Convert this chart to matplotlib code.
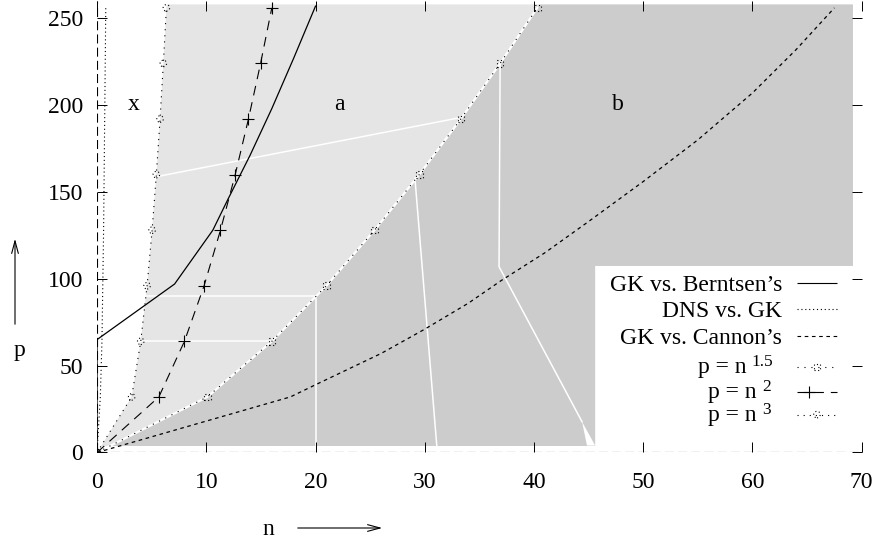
import matplotlib
matplotlib.use('Agg')
import matplotlib.pyplot as plt
from matplotlib.patches import FancyArrowPatch

plt.rcParams['font.family'] = ['Liberation Serif', 'DejaVu Serif']
plt.rcParams['font.size'] = 17
plt.rcParams['lines.scale_dashes'] = False

# p values where the power curves carry a marker
p_grid = [0, 32, 64, 96, 128, 160, 192, 224, 256]
n_p15 = [0, 10.1, 16.0, 21.0, 25.4, 29.5, 33.3, 36.9, 40.3]
n_p2 = [0, 5.66, 8.0, 9.8, 11.3, 12.65, 13.86, 14.97, 16.0]
n_p3 = [0, 3.17, 4.0, 4.58, 5.04, 5.43, 5.77, 6.07, 6.35]

# GK vs. Berntsen's
n_gb = [0, 0, 7.1, 10.6, 12, 14, 16, 18, 20]
p_gb = [0, 65, 97, 128, 146, 171, 198, 227, 257]
# DNS vs. GK
n_dns = [0, 0.3, 0.45, 0.6, 0.7, 0.8]
p_dns = [0, 32, 64, 128, 192, 256]
# GK vs. Cannon's
n_gc = [0, 17.7, 20, 23, 26, 30, 34, 37, 41, 45, 50, 55, 60, 64, 67.5]
p_gc = [0, 32, 39, 48, 57, 71, 86, 99, 115, 133, 156, 180, 207, 232, 256]

# shaded regions
p_top = 258
p_bottom = 4
n_right = 69.2
key_n, key_p = 45.6, 107.4
n_p15_top = 40.5
n_p3_top = 6.4

# white seams between the shaded cells
seams = [
    ([4.0, 16.0], [64, 64]),
    ([4.45, 20.0, 20.0], [90, 90, p_bottom]),
    ([5.6, 33.0], [159, 192.5]),
    ([29.1, 31.1], [158, p_bottom]),
    ([36.9, 36.8, 44.4], [224, 107, 17.7]),
]
wedge_n = [44.4, 44.85, 45.6]
wedge_p = [17.7, p_bottom, p_bottom]

region_labels = ['x', 'a', 'b']
region_n = [3.4, 22.2, 47.7]
region_p = [197, 197, 197]

light = '#e5e5e5'
dark = '#cccccc'

dotted_mark = dict(s=22, facecolors='none', edgecolors='k', linewidths=0.8,
                   linestyles=(0, (0.8, 1.8)))

fig = plt.figure(figsize=(8.75, 5.39), dpi=100)
ax = fig.add_axes([0.1109, 0.1605, 0.8739, 0.8378])
ax.set_xlim(0, 70)
ax.set_ylim(0, 260)
for s in ax.spines.values():
    s.set_visible(False)

# fills
ax.fill(n_p3 + [n_p3_top, n_p15_top] + n_p15[::-1],
        p_grid + [p_top, p_top] + p_grid[::-1],
        color=light, lw=0, zorder=1)
ax.fill(n_p15 + [n_p15_top, n_right, n_right, key_n, key_n],
        p_grid + [p_top, p_top, key_p, key_p, 0],
        color=dark, lw=0, zorder=1)
ax.axhspan(0, p_bottom, color='white', lw=0, zorder=1.2)
for sn, sp in seams:
    ax.plot(sn, sp, color='white', lw=1.1, zorder=1.4)
ax.fill(wedge_n, wedge_p, color='white', lw=0, zorder=1.4)
ax.plot(n_p15, p_grid, color='white', lw=1.6, zorder=1.5)

# zero axes
ax.axhline(0, color='k', lw=0.8, ls=(0, (6.5, 3)), zorder=2)
ax.axvline(0, color='k', lw=0.8, ls=(0, (6.5, 3)), zorder=2)

# curves
ax.plot(n_gb, p_gb, color='k', lw=0.9, zorder=3)
ax.plot(n_dns, p_dns, color='k', lw=0.8, ls=(0, (0.8, 2.0)), zorder=3)
ax.plot(n_gc, p_gc, color='k', lw=0.9, ls=(0, (2.6, 2.6)), zorder=3)

ax.plot(n_p15, p_grid, color='k', lw=0.8, ls=(0, (0.8, 4.2)), zorder=3)
ax.scatter(n_p15, p_grid, marker='s', zorder=4, **dotted_mark)
ax.plot(n_p2, p_grid, color='k', lw=0.8, ls=(0, (7, 5)), marker='+',
        ms=9, mew=0.8, zorder=3)
ax.plot(n_p3, p_grid, color='k', lw=0.8, ls=(0, (0.8, 3.6)), zorder=3)
ax.scatter(n_p3, p_grid, marker='o', zorder=4, **dotted_mark)

for t, n, p in zip(region_labels, region_n, region_p):
    ax.text(n, p, t, ha='center', va='baseline', fontsize=17)

ax.set_xticks(range(0, 71, 10))
ax.set_yticks(range(0, 251, 50))
ax.tick_params(direction='in', length=7, width=0.7, top=True, right=True)
ax.tick_params(axis='x', pad=14)
ax.tick_params(axis='y', pad=10)

# key, in axes fractions (gnuplot style: text right-justified, sample on the right)
key_labels = ['GK vs. Berntsen’s', 'DNS vs. GK', 'GK vs. Cannon’s',
              'p = n', 'p = n', 'p = n']
key_sups = [None, None, None, '1.5', '2', '3']
key_styles = [(0, ()), (0, (0.8, 2.0)), (0, (2.6, 2.6)),
              (0, (0.8, 4.2)), (0, (19, 5)), (0, (0.8, 3.6))]
row_y = [0.3753, 0.3178, 0.2580, 0.1894, 0.1340, 0.0840]
base_off = [0.018, 0.018, 0.018, 0.014, 0.014, 0.014]
text_x = [0.8958, 0.8958, 0.8958, 0.8498, 0.8629, 0.8629]
sup_x = [None, None, None, 0.8552, 0.8696, 0.8696]
x0, x1 = 0.9154, 0.9677
for lab, sup, ls, y, off, tx, sx in zip(key_labels, key_sups, key_styles,
                                        row_y, base_off, text_x, sup_x):
    ax.text(tx, y - off, lab, transform=ax.transAxes, ha='right',
            va='baseline', fontsize=17)
    if sup:
        ax.text(sx, y - off + 0.0155, sup, transform=ax.transAxes, ha='left',
                va='baseline', fontsize=12.5)
    ax.plot([x0, x1], [y, y], transform=ax.transAxes, color='k', lw=0.8,
            ls=ls, clip_on=False, zorder=5)
ax.plot([0.9311], [row_y[4]], transform=ax.transAxes, color='k', marker='+',
        ms=9, mew=0.8, clip_on=False, zorder=5)
ax.scatter([0.9415], [row_y[3]], transform=ax.transAxes, marker='s',
           clip_on=False, zorder=5, **dotted_mark)
ax.scatter([0.9415], [row_y[5]], transform=ax.transAxes, marker='o',
           clip_on=False, zorder=5, **dotted_mark)

# axis labels with arrows
arrow_kw = dict(transform=fig.transFigure, arrowstyle='->,head_length=0.45,head_width=0.12',
                mutation_scale=20, lw=0.8, color='k')
fig.text(268 / 875, 1 - 535 / 539, 'n', ha='center', va='baseline', fontsize=17)
fig.patches.append(FancyArrowPatch((295 / 875, 1 - 528 / 539),
                                   (385 / 875, 1 - 528 / 539), **arrow_kw))
fig.text(19 / 875, 1 - 356 / 539, 'p', ha='center', va='baseline', fontsize=17)
fig.patches.append(FancyArrowPatch((15 / 875, 1 - 327 / 539),
                                   (15 / 875, 1 - 236 / 539), **arrow_kw))

fig.savefig('out.png', dpi=100)
